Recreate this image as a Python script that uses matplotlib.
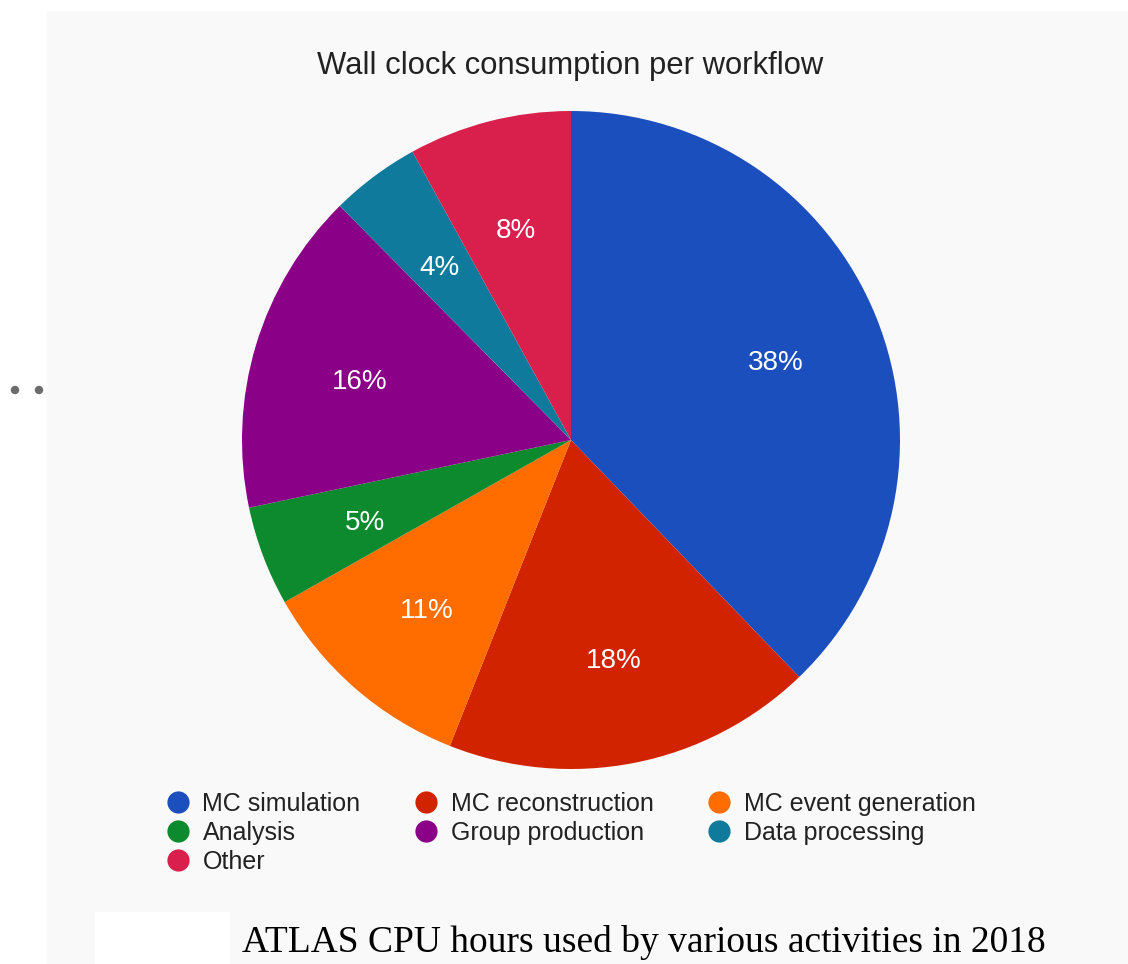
import matplotlib
matplotlib.use("Agg")
import matplotlib.pyplot as plt
import matplotlib.transforms as mtransforms
from matplotlib.patches import Rectangle, Circle
from matplotlib.lines import Line2D

# data
workflows = ["MC simulation", "MC reconstruction", "MC event generation",
             "Analysis", "Group production", "Data processing", "Other"]
shares = [37.8, 18.2, 10.8, 4.9, 15.9, 4.4, 8.0]
colors = ["#1c4fbe", "#d12300", "#ff6c00", "#0d8a2d", "#8a0087", "#0f7a9b", "#d9204d"]
title = "Wall clock consumption per workflow"
caption = "ATLAS CPU hours used by various activities in 2018"

W, H = 1128, 964
plt.rcParams['font.family'] = ['Liberation Sans', 'DejaVu Sans']
fig = plt.figure(figsize=(W / 100, H / 100), dpi=100, facecolor="white")

# background layer in pixel coords
bg = fig.add_axes([0, 0, 1, 1], zorder=0)
bg.set_xlim(0, W)
bg.set_ylim(H, 0)
bg.axis("off")
bg.add_patch(Rectangle((47, 11), W - 47, H - 11, color="#f9f9f9", lw=0))
bg.add_patch(Rectangle((95, 912), 135, H - 912, color="white", lw=0))
for cx in (15, 39):
    bg.add_patch(Circle((cx, 390), 4.2, color="#6b6b6b", lw=0))
bg.set_aspect("auto")

# pie
cx, cy, r = 571, 440, 329
ax = fig.add_axes([(cx - r) / W, (H - cy - r) / H, 2 * r / W, 2 * r / H], zorder=1)
wedges, texts, autotexts = ax.pie(
    shares, colors=colors, startangle=90, counterclock=False, radius=1.0,
    autopct="%.0f%%", pctdistance=0.67,
    textprops=dict(color="white", fontsize=20),
    wedgeprops=dict(linewidth=0))
ax.set_xlim(-1, 1)
ax.set_ylim(-1, 1)
ax.axis("off")
# nudge the percentage labels down a little
for t in autotexts:
    t.set_transform(mtransforms.offset_copy(t.get_transform(), fig=fig, x=0, y=-5, units="dots"))

fig.text(570 / W, 1 - 66 / H, title, ha="center", va="center",
         fontsize=22.3, color="#222222")

# legend, reordered so it reads row by row like the reference
order = [0, 3, 6, 1, 4, 2, 5]
handles = [Line2D([], [], ls="none", marker="o", markersize=16,
                  markerfacecolor=colors[i], markeredgewidth=0) for i in order]
labels = [workflows[i] for i in order]
fig.legend(handles, labels, ncol=3, loc="upper left",
           bbox_to_anchor=(165 / W, 1 - 792 / H), frameon=False,
           fontsize=18, handlelength=1.0, handletextpad=0.5,
           columnspacing=2.1, labelspacing=0.2, borderpad=0,
           borderaxespad=0, labelcolor="#222222")

fig.text(242 / W, 1 - 952 / H, caption, ha="left", va="baseline",
         fontsize=27, family="Liberation Serif", color="black")

fig.savefig("out.png", dpi=100, facecolor=fig.get_facecolor())
